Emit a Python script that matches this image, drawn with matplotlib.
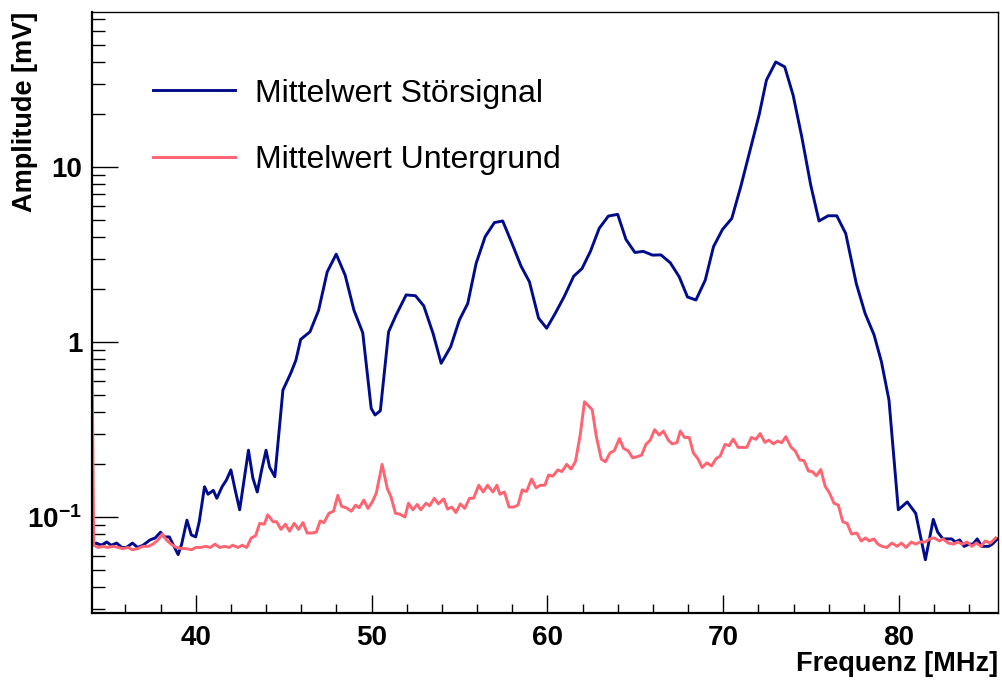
import numpy as np
import matplotlib
matplotlib.use('Agg')
import matplotlib.pyplot as plt
from matplotlib.ticker import LogLocator, MultipleLocator, FixedLocator, FixedFormatter, NullFormatter

plt.rcParams['font.family'] = ['Liberation Sans', 'DejaVu Sans']
plt.rcParams['mathtext.fontset'] = 'custom'
plt.rcParams['mathtext.rm'] = 'Liberation Sans'
plt.rcParams['mathtext.bf'] = 'Liberation Sans:bold'

# Mittelwert Störsignal (Frequenz in MHz, Amplitude in mV)
freq_stoer = [34.1, 34.35, 34.64, 34.93, 35.2, 35.5, 35.8, 36.06, 36.4, 36.7, 37.0, 37.4, 37.7,
              38.0, 38.2, 38.5, 38.7, 39.0, 39.2, 39.5, 39.75, 40.0, 40.2, 40.5, 40.7, 41.0,
              41.2, 41.5, 41.75, 42.0, 42.25, 42.5, 43.0, 43.25, 43.5, 43.75, 44.0, 44.2, 44.5,
              44.96, 45.4, 45.7, 45.97, 46.5, 46.99, 47.48, 47.99, 48.5, 49.0, 49.5, 49.98,
              50.2, 50.5, 50.97, 51.4, 51.97, 52.5, 52.97, 53.5, 53.96, 54.5, 55.0, 55.47,
              55.95, 56.46, 56.99, 57.46, 57.99, 58.5, 58.98, 59.5, 59.96, 60.45, 60.97, 61.5,
              61.97, 62.45, 62.95, 63.47, 64.0, 64.47, 64.98, 65.45, 65.98, 66.46, 66.99, 67.5,
              67.97, 68.45, 68.98, 69.45, 69.96, 70.49, 71.0, 71.53, 72.05, 72.46, 72.99, 73.5,
              73.98, 74.47, 74.98, 75.45, 75.97, 76.46, 76.97, 77.57, 78.07, 78.58, 79.0, 79.43,
              79.96, 80.47, 80.95, 81.5, 81.95, 82.2, 82.5, 82.8, 83.0, 83.2, 83.45, 83.7, 84.0,
              84.2, 84.45, 84.7, 85.1, 85.3, 85.6]
ampl_stoer = [0.070, 0.071, 0.069, 0.072, 0.069, 0.071, 0.067, 0.067, 0.071, 0.067, 0.069, 0.074, 0.076,
              0.082, 0.077, 0.077, 0.070, 0.061, 0.070, 0.096, 0.079, 0.077, 0.094, 0.149, 0.135, 0.142,
              0.128, 0.149, 0.163, 0.186, 0.142, 0.110, 0.241, 0.167, 0.139, 0.186, 0.241, 0.193, 0.17,
              0.532, 0.662, 0.789, 1.036, 1.145, 1.52, 2.52, 3.18, 2.41, 1.52, 1.13, 0.418,
              0.383, 0.405, 1.145, 1.43, 1.86, 1.84, 1.61, 1.12, 0.756, 0.94, 1.34, 1.66,
              2.82, 4.0, 4.82, 4.92, 3.66, 2.72, 2.21, 1.37, 1.20, 1.46, 1.83, 2.38,
              2.63, 3.3, 4.47, 5.25, 5.37, 3.86, 3.25, 3.30, 3.14, 3.15, 2.84, 2.36,
              1.81, 1.74, 2.26, 3.51, 4.40, 5.09, 7.74, 12.5, 20.0, 31.4, 39.9, 37.4,
              25.7, 14.9, 7.89, 4.92, 5.27, 5.27, 4.17, 2.16, 1.46, 1.10, 0.772, 0.466,
              0.11, 0.122, 0.105, 0.057, 0.097, 0.082, 0.075, 0.075, 0.075, 0.072, 0.074, 0.068, 0.070,
              0.070, 0.075, 0.068, 0.068, 0.070, 0.075]

# Mittelwert Untergrund
freq_unter = [34.1, 34.2, 34.45, 34.7, 35.0, 35.3, 35.6, 35.87, 36.15, 36.4, 36.7, 37.0, 37.3,
              37.57, 37.86, 38.1, 38.33, 38.6, 38.9, 39.2, 39.47, 39.76, 40.0, 40.27, 40.57,
              40.83, 41.1, 41.36, 41.65, 41.9, 42.1, 42.4, 42.65, 42.9, 43.16, 43.4, 43.64,
              43.9, 44.1, 44.4, 44.6, 44.85, 45.1, 45.34, 45.6, 45.85, 46.1, 46.34, 46.6,
              46.86, 47.08, 47.3, 47.57, 47.84, 48.08, 48.3, 48.56, 48.85, 49.1, 49.3, 49.56,
              49.8, 50.04, 50.27, 50.6, 50.9, 51.1, 51.36, 51.6, 51.9, 52.1, 52.35, 52.6,
              52.8, 53.1, 53.3, 53.57, 53.8, 54.1, 54.33, 54.56, 54.8, 55.05, 55.3, 55.57,
              55.8, 56.1, 56.35, 56.6, 56.9, 57.13, 57.3, 57.56, 57.82, 58.08, 58.33, 58.57,
              58.82, 59.1, 59.36, 59.6, 59.86, 60.07, 60.3, 60.6, 60.83, 61.1, 61.35, 61.6,
              61.88, 62.11, 62.55, 62.78, 63.07, 63.3, 63.57, 63.8, 64.1, 64.33, 64.6, 64.85,
              65.1, 65.36, 65.6, 65.85, 66.1, 66.36, 66.6, 66.9, 67.1, 67.37, 67.56, 67.8,
              68.07, 68.3, 68.58, 68.8, 69.07, 69.34, 69.6, 69.83, 70.1, 70.34, 70.57, 70.85,
              71.1, 71.34, 71.6, 71.86, 72.1, 72.37, 72.6, 72.86, 73.1, 73.33, 73.56, 73.85,
              74.1, 74.36, 74.6, 74.85, 75.07, 75.3, 75.55, 75.8, 76.05, 76.3, 76.55, 76.8,
              77.05, 77.3, 77.6, 77.85, 78.1, 78.3, 78.57, 78.8, 79.03, 79.3, 79.6, 79.9,
              80.14, 80.4, 80.7, 80.95, 81.2, 81.5, 81.75, 82.0, 82.3, 82.5, 82.8, 83.1,
              83.35, 83.6, 83.87, 84.15, 84.4, 84.67, 84.9, 85.2, 85.5]
ampl_unter = [0.87, 0.069, 0.067, 0.068, 0.067, 0.068, 0.067, 0.066, 0.067, 0.065, 0.066, 0.068, 0.068,
              0.070, 0.074, 0.080, 0.074, 0.070, 0.067, 0.066, 0.066, 0.065, 0.067, 0.067, 0.068,
              0.067, 0.070, 0.067, 0.068, 0.067, 0.069, 0.067, 0.069, 0.067, 0.076, 0.078, 0.092,
              0.091, 0.103, 0.094, 0.094, 0.085, 0.091, 0.083, 0.092, 0.085, 0.093, 0.081, 0.081,
              0.082, 0.095, 0.093, 0.105, 0.108, 0.133, 0.115, 0.113, 0.108, 0.117, 0.113, 0.125,
              0.112, 0.122, 0.137, 0.200, 0.145, 0.131, 0.105, 0.104, 0.100, 0.120, 0.110, 0.118,
              0.110, 0.120, 0.116, 0.128, 0.119, 0.127, 0.111, 0.114, 0.106, 0.119, 0.112, 0.128,
              0.128, 0.152, 0.139, 0.152, 0.139, 0.152, 0.135, 0.139, 0.114, 0.114, 0.117, 0.143,
              0.140, 0.165, 0.147, 0.152, 0.152, 0.174, 0.171, 0.186, 0.182, 0.200, 0.188, 0.208,
              0.300, 0.456, 0.411, 0.29, 0.214, 0.207, 0.233, 0.239, 0.281, 0.247, 0.239, 0.218,
              0.221, 0.226, 0.26, 0.275, 0.316, 0.294, 0.310, 0.273, 0.262, 0.266, 0.310, 0.285,
              0.285, 0.233, 0.214, 0.192, 0.204, 0.196, 0.216, 0.223, 0.26, 0.256, 0.279, 0.25,
              0.25, 0.25, 0.285, 0.278, 0.30, 0.267, 0.275, 0.262, 0.272, 0.266, 0.288, 0.252,
              0.238, 0.212, 0.21, 0.183, 0.182, 0.172, 0.187, 0.150, 0.137, 0.12, 0.117, 0.094,
              0.092, 0.080, 0.081, 0.073, 0.076, 0.073, 0.075, 0.070, 0.068, 0.067, 0.071, 0.068,
              0.071, 0.067, 0.072, 0.070, 0.072, 0.072, 0.075, 0.076, 0.073, 0.075, 0.071, 0.070,
              0.072, 0.070, 0.072, 0.068, 0.071, 0.068, 0.073, 0.071, 0.076]

x_ticks = [40, 50, 60, 70, 80]
y_ticks = [0.1, 1, 10]
y_ticklabels = [r'$\mathbf{10^{-1}}$', '1', '10']

fig = plt.figure(figsize=(10.02, 6.81), dpi=100)
ax = fig.add_axes([0.0918, 0.0999, 0.9042, 0.8825])

ax.plot(freq_stoer, ampl_stoer, color='#000c8c', lw=2.1, label='Mittelwert Störsignal')
ax.plot(freq_unter, ampl_unter, color='#ff6470', lw=2.1, label='Mittelwert Untergrund')

ax.set_yscale('log')
ax.set_xlim(34.1, 85.63)
ax.set_ylim(0.0283, 77)

ax.xaxis.set_major_locator(FixedLocator(x_ticks))
ax.xaxis.set_minor_locator(MultipleLocator(2))
ax.yaxis.set_major_locator(FixedLocator(y_ticks))
ax.yaxis.set_major_formatter(FixedFormatter(y_ticklabels))
ax.yaxis.set_minor_locator(LogLocator(base=10, subs=np.arange(2, 10)))
ax.yaxis.set_minor_formatter(NullFormatter())

ax.tick_params(axis='x', which='major', direction='in', length=13, width=1, pad=8.5,
               labelsize=20, top=False)
ax.tick_params(axis='x', which='minor', direction='in', length=6.5, width=1, top=False)
ax.tick_params(axis='y', which='major', direction='in', length=19, width=1, pad=7,
               labelsize=20, right=False)
ax.tick_params(axis='y', which='minor', direction='in', length=9.5, width=1, right=False)
for lab in ax.get_xticklabels() + ax.get_yticklabels():
    lab.set_fontweight('bold')

for side in ['left', 'bottom']:
    ax.spines[side].set_linewidth(1.6)
for side in ['top', 'right']:
    ax.spines[side].set_linewidth(1.0)

ax.set_xlabel('Frequenz [MHz]', fontsize=19.5, fontweight='bold', loc='right')
ax.xaxis.set_label_coords(1.0, -0.064)
ax.set_ylabel('Amplitude [mV]', fontsize=19.5, fontweight='bold', loc='top')
ax.yaxis.set_label_coords(-0.060, 1.0)

leg = ax.legend(loc='upper left', bbox_to_anchor=(0.036, 0.937), frameon=False, fontsize=23,
                handlelength=2.56, handletextpad=0.62, labelspacing=1.15)

fig.savefig('out.png', dpi=100)
